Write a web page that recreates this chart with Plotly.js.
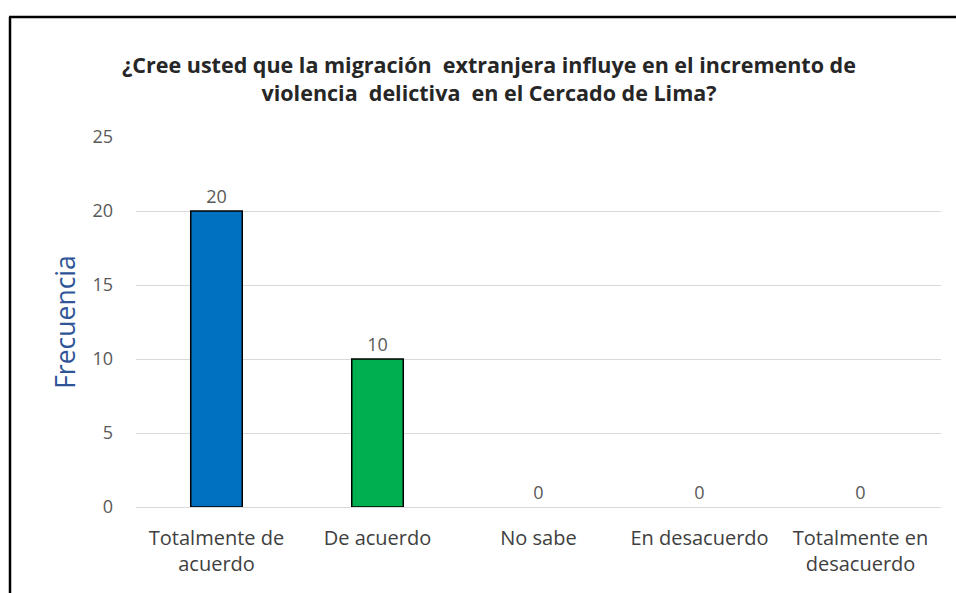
<!DOCTYPE html>
<html>
<head>
<meta charset="utf-8">
<script src="https://cdn.plot.ly/plotly-3.0.1.min.js"></script>
<style>html,body{margin:0;padding:0;background:#fff;}#chart{width:956px;height:593px;}</style>
</head>
<body>
<div id="chart"></div>
<script>
const categories = ["Totalmente de<br>acuerdo", "De acuerdo", "No sabe", "En desacuerdo", "Totalmente en<br>desacuerdo"];
const frecuencia = [20, 10, 0, 0, 0];
const barColors = ["#0070C0", "#00B050", "#A5A5A5", "#FFC000", "#4472C4"];
const yTicks = [0, 5, 10, 15, 20, 25];
const chartTitle = "¿Cree usted que la migración  extranjera influye en el incremento de<br>violencia  delictiva  en el Cercado de Lima?";
const yTitle = "Frecuencia";

const font = "'Open Sans', Lato, sans-serif";

const trace = {
  type: "bar",
  x: categories,
  y: frecuencia,
  marker: {color: barColors, line: {color: "#000000", width: frecuencia.map(v => v > 0 ? 1.5 : 0)}},
  text: frecuencia.map(String),
  textposition: "outside",
  textfont: {family: font, size: 18, color: "#595959"},
  cliponaxis: false,
  hoverinfo: "x+y"
};

const W = 956, H = 593, L = 136, R = 15, T = 137, B = 86;
const pw = W - L - R, ph = H - T - B;
const px = v => (v - L) / pw;
const py = v => (H - B - v) / ph;

const layout = {
  width: W, height: H,
  margin: {l: L, r: R, t: T, b: B, pad: 0},
  paper_bgcolor: "#ffffff",
  plot_bgcolor: "#ffffff",
  showlegend: false,
  bargap: 0.68,
  title: {
    text: chartTitle,
    font: {family: font, size: 21.5, color: "#262626", weight: "bold"},
    xref: "container", yref: "container",
    x: 489 / W, xanchor: "center",
    y: 1 - 73 / H, yanchor: "middle"
  },
  xaxis: {
    type: "category",
    tickfont: {family: font, size: 20, color: "#404040"},
    showgrid: false,
    showline: true, linecolor: "#D9D9D9", linewidth: 1,
    ticks: "", zeroline: false,
    ticklabelstandoff: 13,
    automargin: false
  },
  yaxis: {
    range: [0, 25],
    tickvals: yTicks,
    ticktext: yTicks.map(String),
    tickfont: {family: font, size: 18, color: "#595959"},
    showgrid: true, gridcolor: "#D9D9D9", gridwidth: 1,
    zeroline: true, zerolinecolor: "#D9D9D9", zerolinewidth: 1,
    showline: false,
    ticks: "",
    ticklabelstandoff: 22,
    automargin: false,
    title: {text: yTitle, font: {family: font, size: 26.5, color: "#2F5597"}, standoff: 9}
  },
  shapes: [
    {type: "line", xref: "paper", yref: "paper", x0: px(10), x1: px(10), y0: py(H + 5), y1: py(17), line: {color: "#000000", width: 2.5}},
    {type: "line", xref: "paper", yref: "paper", x0: px(9), x1: px(W + 5), y0: py(17), y1: py(17), line: {color: "#000000", width: 2.5}}
  ]
};

Plotly.newPlot("chart", [trace], layout, {displayModeBar: false, staticPlot: true});
</script>
</body>
</html>
